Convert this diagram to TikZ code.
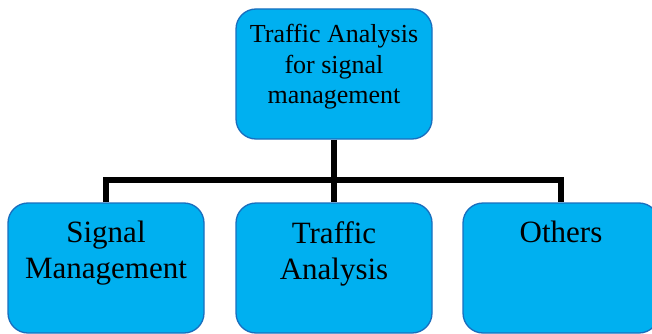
\documentclass[tikz,border=0pt]{standalone}
\usepackage{fontspec}
\setmainfont{Liberation Serif}
\usetikzlibrary{backgrounds}
\definecolor{boxfill}{RGB}{0,176,240}
\definecolor{boxline}{RGB}{25,110,190}
\begin{document}
\begin{tikzpicture}[x=1pt,y=-1pt,
  card/.style={draw=boxline, line width=1.3pt, fill=boxfill,
    rounded corners=20pt, minimum width=196pt, minimum height=130pt,
    inner sep=0pt},
  toplabel/.style={anchor=north, inner sep=0pt, align=center,
    font=\fontsize{26}{30.5}\selectfont},
  sublabel/.style={anchor=north, inner sep=0pt, align=center,
    font=\fontsize{31}{36}\selectfont},
  link/.style={line width=6pt, line join=miter}]
\useasboundingbox (0,0) rectangle (652,334);

% boxes
\node[card] (root) at (334,74) {};
\node[card] (sig)  at (106,268) {};
\node[card] (mid)  at (334,268) {};
\node[card] (oth)  at (561,268) {};

% box texts
\node[toplabel] (rootT) at (334,24) {Traffic Analysis\\for signal\\management};
\node[sublabel] (sigT) at (106,221) {Signal\\Management};
\node[sublabel] (midT) at (334,221) {Traffic\\Analysis};
\node[sublabel] (othT) at (561,221) {Others};

% tree connectors
\coordinate (bus) at (334,180);
\begin{scope}[on background layer]
  \draw[link] (root.south) -- (bus);
  \draw[link] (sig.north) |- (bus) -| (oth.north);
  \draw[link] (bus) -- (mid.north);
\end{scope}
\end{tikzpicture}
\end{document}
